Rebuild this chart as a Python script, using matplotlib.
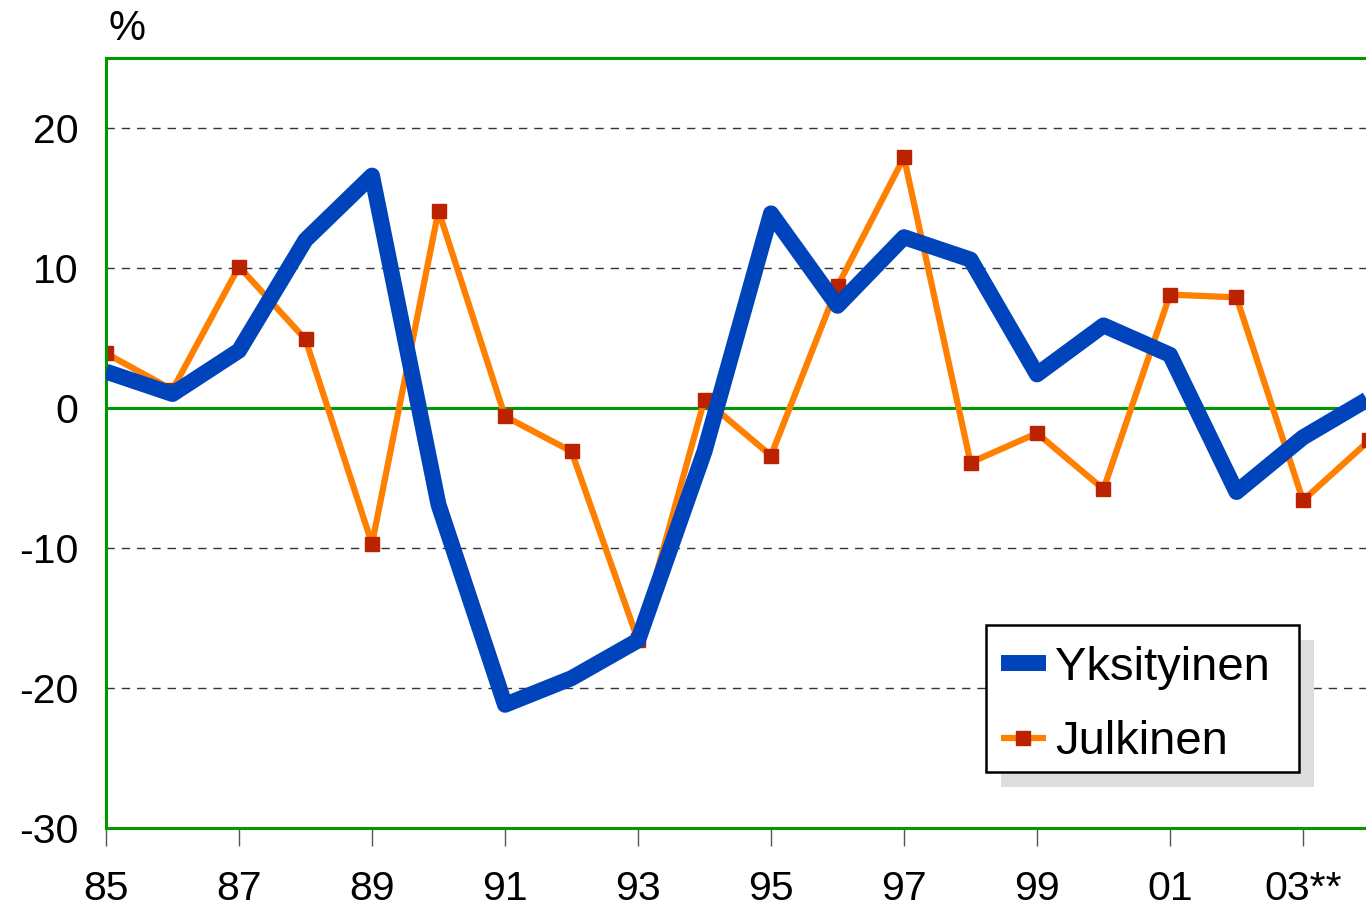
import matplotlib
matplotlib.use("Agg")
import matplotlib.pyplot as plt
from matplotlib.patches import Rectangle

plt.rcParams['font.family'] = ['Liberation Sans', 'DejaVu Sans']

years = list(range(1985, 2005))
yksityinen = [2.6, 1.0, 4.1, 12.0, 16.6, -6.9, -21.2, -19.3, -16.6, -3.1,
              13.9, 7.3, 12.2, 10.6, 2.4, 5.9, 3.8, -6.0, -2.1, 0.7]
julkinen = [3.9, 1.3, 10.1, 4.9, -9.7, 14.1, -0.6, -3.1, -16.6, 0.6,
            -3.4, 8.7, 17.9, -3.9, -1.8, -5.8, 8.1, 7.9, -6.6, -2.3]
tick_years = list(range(1985, 2004, 2))
tick_labels = ['85', '87', '89', '91', '93', '95', '97', '99', '01', '03**']
y_ticks = [20, 10, 0, -10, -20, -30]

W, H = 1366, 907
fig = plt.figure(figsize=(W / 100, H / 100), dpi=100)
ax = fig.add_axes([106 / W, (H - 828) / H, (W - 106) / W, (828 - 58) / H])

green = '#009900'
blue = '#0044bb'
orange = '#ff8000'
red = '#bb2200'

ax.set_xlim(1985, 1985 + (W - 106) / 66.5)
ax.set_ylim(-30, 25)

for g in [20, 10, -10, -20]:
    ax.axhline(g, color='#333333', lw=1.0, ls=(0, (6, 5)), zorder=1)
ax.axhline(0, color=green, lw=2.2, zorder=1.5)

ax.plot(years, julkinen, color=orange, lw=4.5, marker='s', ms=10,
        mfc=red, mec=red, zorder=2, label='Julkinen', solid_capstyle='butt')
ax.plot(years, yksityinen, color=blue, lw=11.5, solid_joinstyle='round',
        solid_capstyle='butt', zorder=3, label='Yksityinen')

for s in ['left', 'top', 'bottom']:
    ax.spines[s].set_color(green)
    ax.spines[s].set_linewidth(2.2)
ax.spines['right'].set_visible(False)

ax.set_xticks(tick_years)
ax.set_xticklabels(tick_labels)
ax.set_yticks(y_ticks)
ax.set_yticklabels([str(v) for v in y_ticks])
ax.tick_params(axis='x', length=13, width=1, color='#555555', pad=17, labelsize=29.5)
ax.tick_params(axis='y', length=0, pad=20, labelsize=29.5)

fig.text(108 / W, 1 - 40 / H, '%', fontsize=30, va='baseline', ha='left')

# legend frame + shadow (pixel layout)
lx0, ly0, lx1, ly1 = 986, 625, 1299, 772
shadow = Rectangle(((lx0 + 15) / W, (H - ly1 - 15) / H), (lx1 - lx0) / W, (ly1 - ly0) / H,
                   transform=fig.transFigure, facecolor='#dddddd', edgecolor='none',
                   zorder=9, clip_on=False)
frame = Rectangle((lx0 / W, (H - ly1) / H), (lx1 - lx0) / W, (ly1 - ly0) / H,
                  transform=fig.transFigure, facecolor='white', edgecolor='black',
                  linewidth=1.8, zorder=9.5, clip_on=False)
ax.add_artist(shadow)
ax.add_artist(frame)

handles, labels = ax.get_legend_handles_labels()
leg = ax.legend(handles[::-1], labels[::-1], loc='upper left',
                bbox_to_anchor=(1001 / W, (H - 646) / H),
                bbox_transform=fig.transFigure,
                borderaxespad=0, fontsize=34, frameon=False,
                handlelength=0.95, handletextpad=0.2, borderpad=0,
                labelspacing=0.64)
leg.set_zorder(10)

fig.savefig('out.png', dpi=100)
